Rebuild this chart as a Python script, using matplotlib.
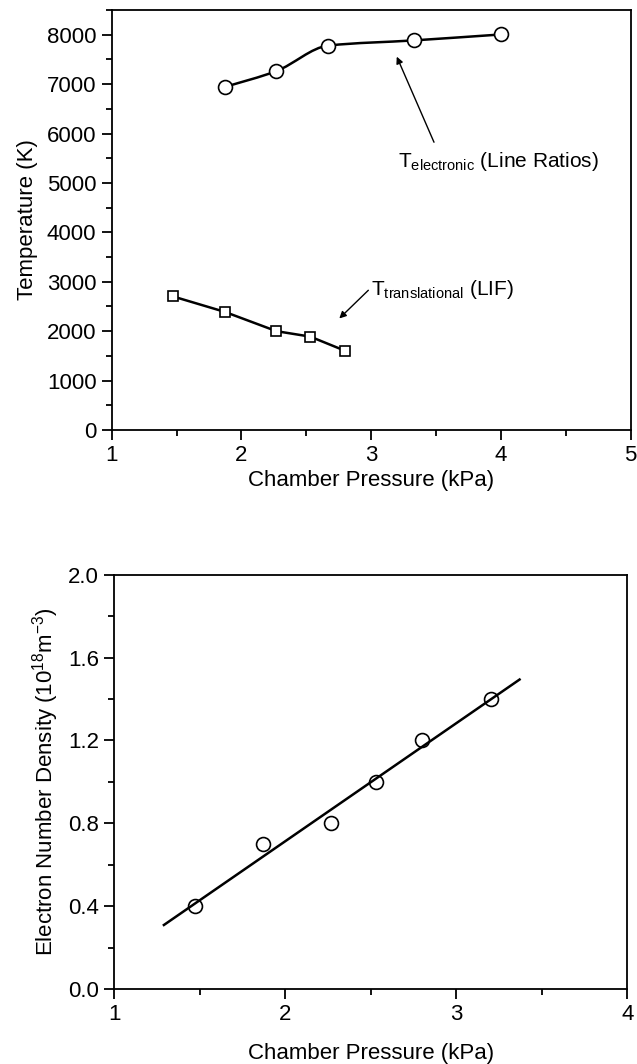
import numpy as np
import matplotlib
matplotlib.use('Agg')
import matplotlib.pyplot as plt
from matplotlib.path import Path
from matplotlib.patches import PathPatch
from matplotlib.ticker import MultipleLocator, FormatStrFormatter

#fonts - arial look-alike for everything incl. math sub/superscripts
plt.rcParams['font.family'] = ['Liberation Sans', 'DejaVu Sans']
plt.rcParams['mathtext.fontset'] = 'custom'
plt.rcParams['mathtext.rm'] = 'Liberation Sans'
plt.rcParams['mathtext.it'] = 'Liberation Sans:italic'
plt.rcParams['mathtext.bf'] = 'Liberation Sans:bold'

#top panel data (chamber pressure in kPa, temperature in K)
p_electronic = [1.87, 2.27, 2.67, 3.33, 4.00]
t_electronic = [6940, 7265, 7780, 7885, 8005]
p_translational = [1.47, 1.87, 2.27, 2.53, 2.80]
t_translational = [2705, 2392, 2000, 1890, 1602]

#bottom panel data (electron number density, 1e18 m^-3)
p_density = [1.47, 1.87, 2.27, 2.53, 2.80, 3.20]
n_density = [0.40, 0.70, 0.80, 1.00, 1.20, 1.40]


def smooth_path(xs, ys):
    #monotone cubic (fritsch-carlson style tangents) drawn as bezier segments
    x = np.asarray(xs, float)
    y = np.asarray(ys, float)
    sec = np.diff(y) / np.diff(x)
    m = np.empty_like(y)
    m[0], m[-1] = sec[0], sec[-1]
    for i in range(1, len(x) - 1):
        a, b = sec[i - 1], sec[i]
        m[i] = 0.0 if a * b <= 0 else 2.0 / (1.0 / a + 1.0 / b)
    verts = [(x[0], y[0])]
    codes = [Path.MOVETO]
    for i in range(len(x) - 1):
        h = (x[i + 1] - x[i]) / 3.0
        verts += [(x[i] + h, y[i] + m[i] * h),
                  (x[i + 1] - h, y[i + 1] - m[i + 1] * h),
                  (x[i + 1], y[i + 1])]
        codes += [Path.CURVE4] * 3
    return Path(verts, codes)


def style_axes(ax):
    for s in ax.spines.values():
        s.set_linewidth(1.3)
    ax.tick_params(which='both', direction='out', top=False, right=False,
                   labelsize=16, width=1.3)
    ax.tick_params(which='major', length=7, pad=4)
    ax.tick_params(which='minor', length=4)


fig = plt.figure(figsize=(6.37, 10.64), dpi=100)

#top panel
ax1 = fig.add_axes([111.7 / 637, 1 - 430 / 1064, 519 / 637, 420 / 1064])
ax1.add_patch(PathPatch(smooth_path(p_electronic, t_electronic),
                        facecolor='none', edgecolor='k', lw=1.8, zorder=2))
ax1.plot(p_electronic, t_electronic, 'o', ms=10, mfc='white', mec='k', mew=1.2, zorder=3)
ax1.plot(p_translational, t_translational, '-', color='k', lw=1.8, zorder=2)
ax1.plot(p_translational, t_translational, 's', ms=7.5, mfc='white', mec='k', mew=1.2, zorder=3)
ax1.set_xlim(1, 5)
ax1.set_ylim(0, 8500)
ax1.xaxis.set_major_locator(MultipleLocator(1))
ax1.xaxis.set_minor_locator(MultipleLocator(0.5))
ax1.yaxis.set_major_locator(MultipleLocator(1000))
ax1.yaxis.set_minor_locator(MultipleLocator(500))
style_axes(ax1)
ax1.set_xlabel('Chamber Pressure (kPa)', fontsize=16, labelpad=3)
ax1.set_ylabel('Temperature (K)', fontsize=16, labelpad=6)

ax1.annotate('', xy=(3.197, 7556), xytext=(3.484, 5824),
             arrowprops=dict(arrowstyle='-|>', lw=1.0, color='k', mutation_scale=10,
                             shrinkA=0, shrinkB=0))
ax1.text(3.21, 5330, r'T$_{\mathrm{electronic}}$ (Line Ratios)', fontsize=15,
         ha='left', va='baseline')
ax1.annotate('', xy=(2.754, 2257), xytext=(2.978, 2828),
             arrowprops=dict(arrowstyle='-|>', lw=1.0, color='k', mutation_scale=10,
                             shrinkA=0, shrinkB=0))
ax1.text(2.995, 2730, r'T$_{\mathrm{translational}}$ (LIF)', fontsize=15,
         ha='left', va='baseline')

#bottom panel
ax2 = fig.add_axes([114.3 / 637, 1 - 989 / 1064, 513 / 637, 414.3 / 1064])
fit = np.polyfit(p_density, n_density, 1)
xfit = np.array([1.29, 3.37])
ax2.plot(xfit, np.polyval(fit, xfit), '-', color='k', lw=1.8, zorder=2)
ax2.plot(p_density, n_density, 'o', ms=10, mfc='none', mec='k', mew=1.2, zorder=3)
ax2.set_xlim(1, 4)
ax2.set_ylim(0, 2.0)
ax2.xaxis.set_major_locator(MultipleLocator(1))
ax2.xaxis.set_minor_locator(MultipleLocator(0.5))
ax2.yaxis.set_major_locator(MultipleLocator(0.4))
ax2.yaxis.set_minor_locator(MultipleLocator(0.2))
ax2.yaxis.set_major_formatter(FormatStrFormatter('%.1f'))
style_axes(ax2)
ax2.set_xlabel('Chamber Pressure (kPa)', fontsize=16, labelpad=13)
ax2.set_ylabel(r'Electron Number Density (10$^{18}$m$^{-3}$)', fontsize=16, labelpad=5)

plt.savefig('out.png', dpi=100)
